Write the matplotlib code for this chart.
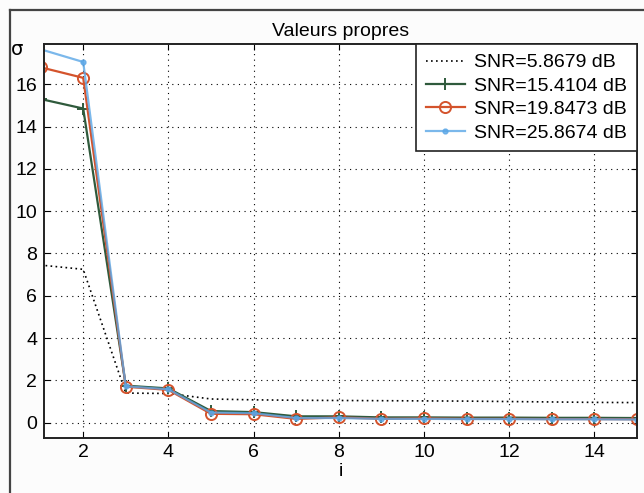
import matplotlib
matplotlib.use("Agg")
import matplotlib.pyplot as plt
from matplotlib.lines import Line2D

plt.rcParams['font.family'] = ['Liberation Sans', 'DejaVu Sans']

idx = list(range(1, 16))
snr_labels = ["SNR=5.8679 dB", "SNR=15.4104 dB", "SNR=19.8473 dB", "SNR=25.8674 dB"]
sig_5 = [7.45, 7.25, 1.40, 1.38, 1.12, 1.08, 1.06, 1.05, 1.04, 1.03, 1.02, 1.00, 0.98, 0.96, 0.95]
sig_15 = [15.3, 14.85, 1.75, 1.62, 0.55, 0.50, 0.30, 0.30, 0.25, 0.25, 0.24, 0.24, 0.23, 0.23, 0.22]
sig_19 = [16.8, 16.3, 1.70, 1.55, 0.42, 0.40, 0.18, 0.25, 0.18, 0.20, 0.18, 0.18, 0.17, 0.17, 0.16]
sig_25 = [17.65, 17.05, 1.72, 1.58, 0.48, 0.45, 0.22, 0.22, 0.18, 0.18, 0.17, 0.17, 0.16, 0.16, 0.15]

fig = plt.figure(figsize=(6.44, 4.93), dpi=100)
fig.patch.set_facecolor("#fcfcfc")
# outer frame lines (left and top) of the original screenshot
fig.add_artist(Line2D([10/644, 10/644], [0, 1 - 10/493], transform=fig.transFigure,
                      color="#444444", lw=1.6))
fig.add_artist(Line2D([10/644, 1], [1 - 10/493, 1 - 10/493], transform=fig.transFigure,
                      color="#444444", lw=1.6))

ax = fig.add_axes([44/644, 1 - 437.5/493, 593/644, 393.5/493])
ax.set_facecolor("white")

ax.plot(idx, sig_5, color="black", ls=(0, (1, 2)), lw=1.2, label=snr_labels[0])
ax.plot(idx, sig_15, color="#2f5a3c", lw=1.6, marker="+", ms=8, mew=1.4, label=snr_labels[1])
ax.plot(idx, sig_19, color="#d4532c", lw=1.6, marker="o", ms=8, mew=1.4, mfc="none", label=snr_labels[2])
ax.plot(idx, sig_25, color="#5aa6e6", lw=1.6, marker=".", ms=7, alpha=0.8, label=snr_labels[3])

ax.set_xlim(1.08, 15)
ax.set_ylim(-0.7, 17.9)
ax.set_xticks([2, 4, 6, 8, 10, 12, 14])
ax.set_yticks([0, 2, 4, 6, 8, 10, 12, 14, 16])
ax.tick_params(direction="in", labelsize=14, length=4, top=True, right=True, pad=5)
ax.grid(True, color="black", ls=(0, (1, 4)), lw=0.8)
for s in ax.spines.values():
    s.set_linewidth(1.4)
    s.set_color("#222222")

ax.set_title("Valeurs propres", fontsize=14, pad=6)
ax.set_xlabel("i", fontsize=14, labelpad=1)
ax.text(-0.045, 0.985, "σ", transform=ax.transAxes, fontsize=14,
        ha="center", va="center", family=["DejaVu Sans"])

leg = ax.legend(loc="upper right", bbox_to_anchor=(1, 1), borderaxespad=0,
                fontsize=14, fancybox=False, framealpha=1, edgecolor="#222222",
                labelspacing=0.3, handlelength=2.0, handletextpad=0.5, borderpad=0.5)
leg.get_frame().set_linewidth(1.2)

fig.savefig("out.png", dpi=100, facecolor=fig.get_facecolor())
